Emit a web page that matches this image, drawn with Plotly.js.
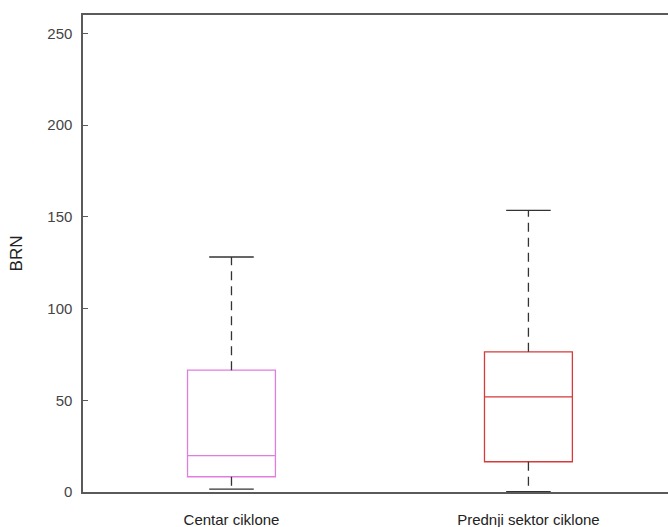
<!DOCTYPE html>
<html>
<head>
<meta charset="utf-8">
<script src="https://cdn.plot.ly/plotly-3.0.1.min.js"></script>
<style>html,body{margin:0;padding:0;background:#fff;}#chart{width:668px;height:527px;}</style>
</head>
<body>
<div id="chart"></div>
<script>
// Data
const categories = ["Centar ciklone", "Prednji sektor ciklone"];
const positions = [1, 2];
const lowerWhisker = [1.6, 0.2];
const q1 = [8.3, 16.5];
const median = [19.8, 51.9];
const q3 = [66.4, 76.4];
const upperWhisker = [128.1, 153.5];
const boxColors = ["#e07ee0", "#d63a3a"];
const yTicks = [0, 50, 100, 150, 200, 250];

const boxWidth = 0.296;
const capHalf = 0.075;

const traces = [];
for (let i = 0; i < categories.length; i++) {
  traces.push({
    type: "box",
    x: [positions[i]],
    q1: [q1[i]], median: [median[i]], q3: [q3[i]],
    lowerfence: [q1[i]], upperfence: [q3[i]],
    width: boxWidth,
    whiskerwidth: 0,
    fillcolor: "rgba(255,255,255,0)",
    line: {color: boxColors[i], width: 1.3},
    hoverinfo: "skip",
    showlegend: false
  });
  // dashed whiskers
  traces.push({
    type: "scatter", mode: "lines",
    x: [positions[i], positions[i], null, positions[i], positions[i]],
    y: [q3[i], upperWhisker[i], null, q1[i], lowerWhisker[i]],
    line: {color: "#333333", width: 1.3, dash: "9px,6px"},
    hoverinfo: "skip", showlegend: false
  });
  // caps
  traces.push({
    type: "scatter", mode: "lines",
    x: [positions[i] - capHalf, positions[i] + capHalf, null, positions[i] - capHalf, positions[i] + capHalf],
    y: [upperWhisker[i], upperWhisker[i], null, lowerWhisker[i], lowerWhisker[i]],
    line: {color: "#333333", width: 1.3},
    hoverinfo: "skip", showlegend: false
  });
}

const layout = {
  width: 668, height: 527,
  margin: {l: 83, r: 0, t: 15, b: 35},
  paper_bgcolor: "#ffffff",
  plot_bgcolor: "#ffffff",
  showlegend: false,
  font: {family: "Liberation Sans, Arial, sans-serif", color: "#333333", size: 14},
  xaxis: {
    range: [0.5, 2.47],
    tickvals: positions,
    ticktext: categories,
    ticks: "",
    showgrid: false, zeroline: false,
    showline: true, linecolor: "#5a5a5a", linewidth: 1.6,
    mirror: true,
    tickfont: {size: 15, color: "#222222"},
    ticklabelstandoff: 13
  },
  yaxis: {
    range: [0, 260],
    tickvals: yTicks,
    ticks: "inside", ticklen: 5, tickcolor: "#5a5a5a", tickwidth: 1,
    showgrid: false, zeroline: false,
    showline: true, linecolor: "#5a5a5a", linewidth: 1.6,
    mirror: false,
    tickfont: {size: 15, color: "#444444"},
    ticklabelstandoff: 6,
    title: {text: "BRN", font: {size: 17, color: "#222222"}, standoff: 20}
  }
};

Plotly.newPlot("chart", traces, layout, {displayModeBar: false, staticPlot: true});
</script>
</body>
</html>
